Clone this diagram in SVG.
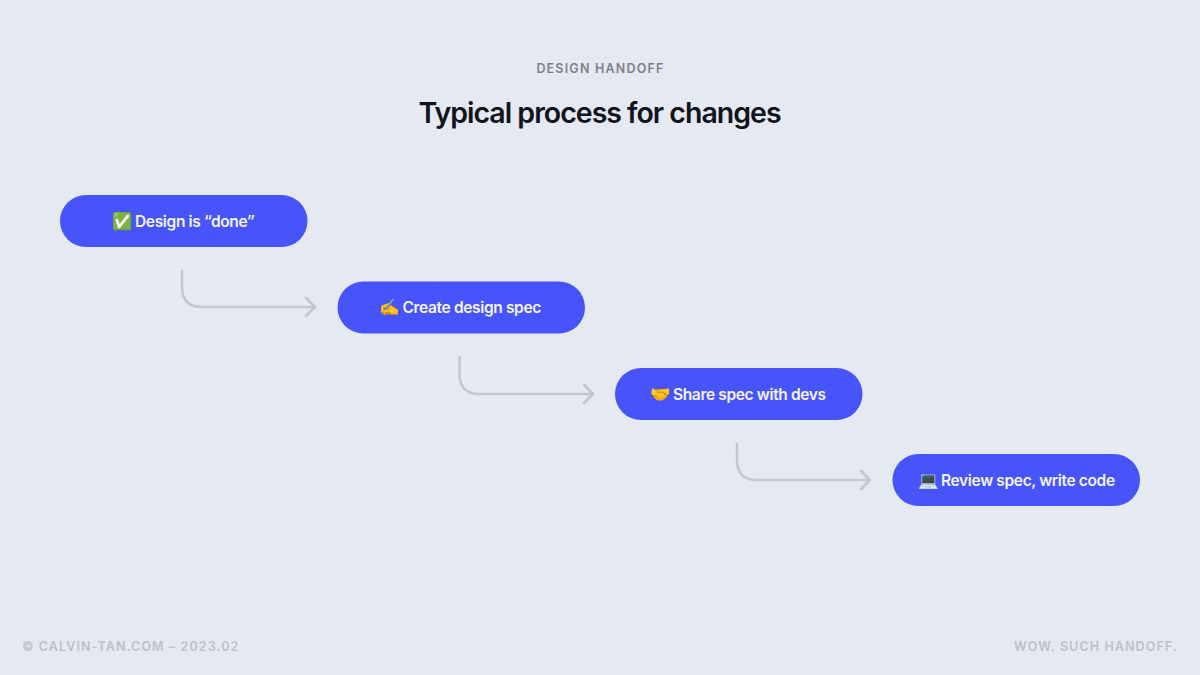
<svg xmlns="http://www.w3.org/2000/svg" width="1200" height="675" viewBox="0 0 1200 675">
<defs>
<marker id="arrow" markerUnits="userSpaceOnUse" markerWidth="14" markerHeight="22" refX="11" refY="11" orient="auto" overflow="visible">
<path d="M2 2 L11 11 L2 20" fill="none" stroke="#c2c6cf" stroke-width="2.5" stroke-linecap="round" stroke-linejoin="round"/>
</marker>
</defs>
<style>
text{font-family:"Inter","Liberation Sans","Noto Color Emoji",sans-serif}
.t{font-size:15.5px;font-weight:600;fill:#f4f5ff;letter-spacing:-.35px}
.e{font-size:16.500px}
.n{fill:#4754fa}
.c{fill:none;stroke:#c2c6cf;stroke-width:2.5;stroke-linecap:round;marker-end:url(#arrow)}
.f{font-size:12.5px;font-weight:600;fill:#bcc0cb;letter-spacing:1.1px}
</style>
<rect width="1200" height="675" fill="#e5e9f1"/>
<text id="eyebrow" x="600.500" y="73" text-anchor="middle" font-size="12.5" font-weight="600" letter-spacing="1.2" fill="#7d8189">DESIGN HANDOFF</text>
<text id="title" x="599.500" y="123" text-anchor="middle" font-size="28.5" font-weight="600" letter-spacing="-1" fill="#10141c">Typical process for changes</text>
<g id="connectors">
<path class="c" d="M182 271 V287 Q182 307 202 307 H315"/>
<path class="c" d="M459.500 357 V374 Q459.500 394 479.500 394 H593"/>
<path class="c" d="M737 444 V460 Q737 480 757 480 H870"/>
</g>
<g id="node-1"><rect class="n" x="60" y="195" width="247.500" height="52" rx="26"/><text class="e" x="112" y="226.500">✅</text><text class="t" x="135" y="226.500">Design is “done”</text></g>
<g id="node-2"><rect class="n" x="337.500" y="281.500" width="247.500" height="52" rx="26"/><text class="e" x="379" y="312.500">✍️</text><text class="t" x="402.500" y="313">Create design spec</text></g>
<g id="node-3"><rect class="n" x="615" y="368" width="247.500" height="52" rx="26"/><text class="e" x="650" y="399.500">🤝</text><text class="t" x="673" y="399.500">Share spec with devs</text></g>
<g id="node-4"><rect class="n" x="892.500" y="454" width="247.500" height="52" rx="26"/><text class="e" x="918" y="485.500">💻</text><text class="t" x="941" y="486">Review spec, write code</text></g>
<text id="footer-left" class="f" x="22" y="651">© CALVIN-TAN.COM – 2023.02</text>
<text id="footer-right" class="f" x="1178" y="651" text-anchor="end">WOW. SUCH HANDOFF.</text>
</svg>
